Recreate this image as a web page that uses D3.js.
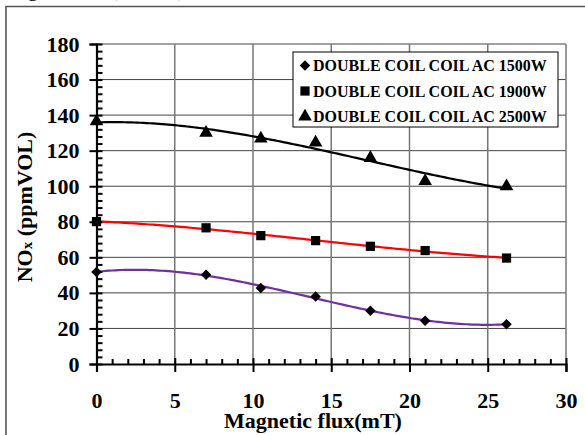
<!DOCTYPE html>
<html>
<head>
<meta charset="utf-8">
<script src="https://cdn.jsdelivr.net/npm/d3@7"></script>
<style>
  body { margin: 0; background: #fff; }
  text { font-family: "Liberation Serif", "Times New Roman", "DejaVu Serif", serif; font-weight: bold; fill: #000; }
</style>
</head>
<body>
<svg id="chart" width="585" height="435"></svg>
<script>
// values
var flux = [0, 7, 10.5, 14, 17.5, 21, 26.2];
var nox1500 = [51.8, 50.2, 42.7, 38.0, 29.9, 24.3, 22.4];
var nox1900 = [80.1, 76.6, 72.2, 69.4, 66.2, 63.8, 59.6];
var nox2500 = [136.5, 130.0, 126.8, 124.5, 115.9, 102.9, 99.9];
var seriesNames = ["DOUBLE COIL COIL AC 1500W", "DOUBLE COIL COIL AC 1900W", "DOUBLE COIL COIL AC 2500W"];
var xTicks = [0, 5, 10, 15, 20, 25, 30];
var yTicks = [0, 20, 40, 60, 80, 100, 120, 140, 160, 180];

var svg = d3.select("svg#chart");

var x = d3.scaleLinear().domain([0, 30]).range([96.5, 566]);
var y = d3.scaleLinear().domain([0, 180]).range([364, 44]);

// figure caption, mostly cut off at the top
svg.append("text").attr("x", 9).attr("y", -4).style("font-weight", "normal").style("font-size", "22px").text("Figure");
svg.append("text").attr("x", 110).attr("y", -4).style("font-weight", "normal").style("font-size", "22px")
    .attr("textLength", 75).attr("lengthAdjust", "spacing").text("(2)");

// outer frame
svg.append("path").attr("d", "M6,435V6.5H590").attr("fill", "none").attr("stroke", "#555").attr("stroke-width", 1.6);

// grid
svg.selectAll(".hgrid").data(yTicks.slice(1)).enter().append("line")
    .attr("x1", x(0)).attr("x2", x(30))
    .attr("y1", function(d) { return y(d); }).attr("y2", function(d) { return y(d); })
    .attr("stroke", "#444").attr("stroke-width", 1);
svg.selectAll(".vgrid").data(xTicks.slice(1)).enter().append("line")
    .attr("y1", y(0)).attr("y2", y(180))
    .attr("x1", function(d) { return x(d); }).attr("x2", function(d) { return x(d); })
    .attr("stroke", "#777").attr("stroke-width", 1.5);

// least squares polynomial trendline
function polyfit(xs, ys, deg) {
    var n = deg + 1;
    var A = [], b = [];
    for (var i = 0; i < n; i++) {
        A.push([]);
        for (var j = 0; j < n; j++) {
            A[i].push(d3.sum(xs, function(v) { return Math.pow(v, i + j); }));
        }
        b.push(d3.sum(xs, function(v, k) { return ys[k] * Math.pow(v, i); }));
    }
    for (var c = 0; c < n; c++) {
        var p = c;
        for (var r = c + 1; r < n; r++) if (Math.abs(A[r][c]) > Math.abs(A[p][c])) p = r;
        var t = A[c]; A[c] = A[p]; A[p] = t;
        var tb = b[c]; b[c] = b[p]; b[p] = tb;
        for (var r2 = c + 1; r2 < n; r2++) {
            var f = A[r2][c] / A[c][c];
            for (var k = c; k < n; k++) A[r2][k] -= f * A[c][k];
            b[r2] -= f * b[c];
        }
    }
    var coef = new Array(n);
    for (var r3 = n - 1; r3 >= 0; r3--) {
        var s = b[r3];
        for (var k2 = r3 + 1; k2 < n; k2++) s -= A[r3][k2] * coef[k2];
        coef[r3] = s / A[r3][r3];
    }
    return function(v) { return d3.sum(coef, function(cf, i) { return cf * Math.pow(v, i); }); };
}

var diamond = {draw: function(ctx, size) {
    var r = Math.sqrt(size / 2);
    ctx.moveTo(0, -r); ctx.lineTo(r, 0); ctx.lineTo(0, r); ctx.lineTo(-r, 0); ctx.closePath();
}};

var series = [
    {name: seriesNames[0], values: nox1500, color: "#7030a0", symbol: diamond, size: 55},
    {name: seriesNames[1], values: nox1900, color: "#ff0000", symbol: d3.symbolSquare, size: 85},
    {name: seriesNames[2], values: nox2500, color: "#000000", symbol: d3.symbolTriangle, size: 80}
];

var line = d3.line().x(function(d) { return x(d[0]); }).y(function(d) { return y(d[1]); });
var xs = d3.range(0, 26.2001, 0.2);

series.forEach(function(s) {
    var fit = polyfit(flux, s.values, 3);
    svg.append("path")
        .datum(xs.map(function(v) { return [v, fit(v)]; }))
        .attr("d", line).attr("fill", "none")
        .attr("stroke", s.color).attr("stroke-width", 2.2);
});

// axes
var yAxis = svg.append("g").attr("transform", "translate(" + x(0) + ",0)")
    .call(d3.axisLeft(y).tickValues(yTicks).tickSize(7).tickPadding(10));
yAxis.attr("font-family", null).attr("font-size", null);
yAxis.selectAll(".tick line").attr("x1", 6).attr("stroke-width", 2);
yAxis.select(".domain").attr("stroke-width", 2.2);
yAxis.selectAll("text").style("font-size", "22px").attr("fill", "#000");

svg.append("g").attr("transform", "translate(" + x(0) + ",0)")
    .call(d3.axisLeft(y).tickValues(d3.range(0, 181, 4).filter(function(d) { return d % 20; })).tickSize(-6).tickFormat(""))
    .call(function(g) { g.select(".domain").remove(); g.selectAll("line").attr("stroke-width", 2); });

var xAxis = svg.append("g").attr("transform", "translate(0," + y(0) + ")")
    .call(d3.axisBottom(x).tickValues(xTicks).tickSize(8));
xAxis.attr("font-family", null).attr("font-size", null);
xAxis.selectAll(".tick line").attr("y1", -6).attr("stroke-width", 2);
xAxis.select(".domain").attr("stroke-width", 2.2);
xAxis.selectAll("text").style("font-size", "22px").attr("fill", "#000").attr("y", 44).attr("dy", null);

svg.append("g").attr("transform", "translate(0," + y(0) + ")")
    .call(d3.axisBottom(x).tickValues(d3.range(0, 31, 1).filter(function(d) { return d % 5; })).tickSize(-5).tickFormat(""))
    .call(function(g) { g.select(".domain").remove(); g.selectAll("line").attr("stroke-width", 2); });

// markers
series.forEach(function(s) {
    svg.selectAll(null).data(s.values).enter().append("path")
        .attr("d", d3.symbol().type(s.symbol).size(s.size))
        .attr("transform", function(d, i) { return "translate(" + x(flux[i]) + "," + y(d) + ")"; })
        .attr("fill", "#000");
});

// axis titles
svg.append("text").attr("x", 313).attr("y", 428).attr("text-anchor", "middle")
    .style("font-size", "22px").text("Magnetic flux(mT)");

var yt = svg.append("text").attr("transform", "translate(32,207) rotate(-90)")
    .attr("text-anchor", "middle").style("font-size", "22px");
yt.append("tspan").text("NO");
yt.append("tspan").style("font-size", "15px").text("x");
yt.append("tspan").text(" (ppmVOL)");

// legend
var legend = svg.append("g");
legend.append("rect").attr("x", 293).attr("y", 52).attr("width", 265).attr("height", 75)
    .attr("fill", "#fff").attr("stroke", "#000").attr("stroke-width", 1);
series.forEach(function(s, i) {
    var yy = 71 + i * 25.5;
    legend.append("path").attr("d", d3.symbol().type(s.symbol).size(s.size))
        .attr("transform", "translate(305," + (yy - 5.5) + ")").attr("fill", "#000");
    legend.append("text").attr("x", 313).attr("y", yy).style("font-size", "16px").text(s.name);
});
</script>
</body>
</html>
